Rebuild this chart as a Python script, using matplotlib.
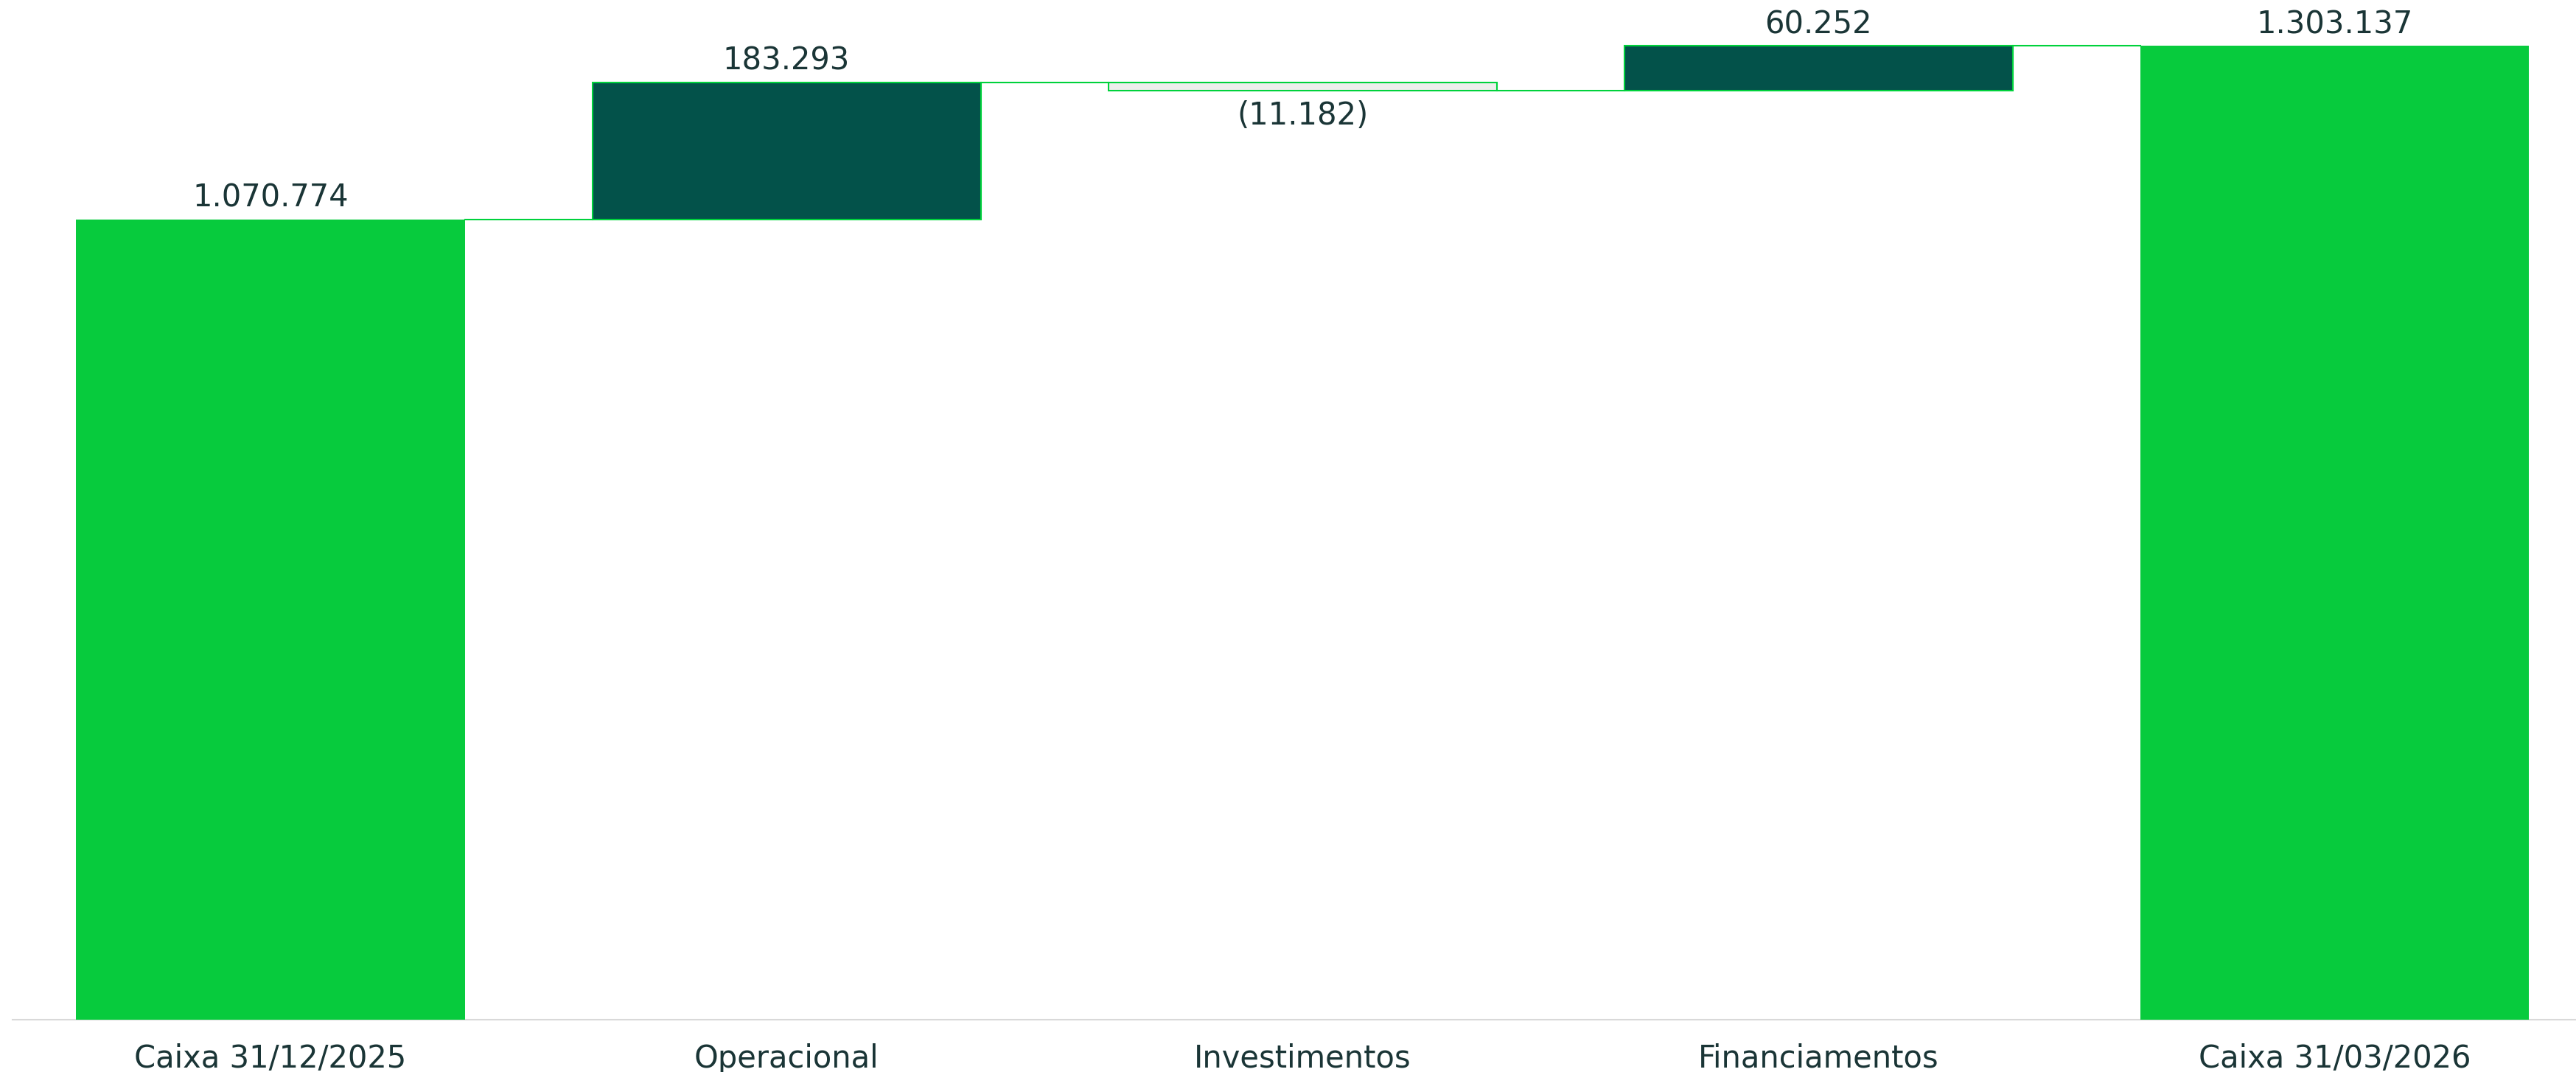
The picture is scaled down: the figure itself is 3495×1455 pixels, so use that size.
import matplotlib
matplotlib.use('Agg')
import matplotlib.pyplot as plt

categories = ['Caixa 31/12/2025', 'Operacional', 'Investimentos', 'Financiamentos', 'Caixa 31/03/2026']
values = [1070774, 183293, -11182, 60252, 1303137]
is_total = [True, False, False, False, True]

TOTAL_COLOR = '#07CB3D'
UP_COLOR = '#03524A'
DOWN_COLOR = '#EEEEEC'
EDGE_COLOR = '#00D23C'
TEXT_COLOR = '#1A3536'


def fmt(v):
    s = f'{abs(v):,}'.replace(',', '.')
    return f'({s})' if v < 0 else s


def build_waterfall(values, is_total):
    # bottoms, heights and running level after each bar
    bottoms, heights, levels = [], [], []
    running = 0
    for v, tot in zip(values, is_total):
        if tot:
            bottoms.append(0)
            heights.append(v)
            running = v
        else:
            bottoms.append(running if v >= 0 else running + v)
            heights.append(abs(v))
            running += v
        levels.append(running)
    return bottoms, heights, levels


plt.rcParams['font.family'] = ['DejaVu Sans']

fig = plt.figure(figsize=(34.95, 14.55), dpi=100)
ax = fig.add_axes([17 / 3495, 71 / 1455, 1 - 17 / 3495, 1384 / 1455])

bottoms, heights, levels = build_waterfall(values, is_total)
x = list(range(len(categories)))
width = 0.753

for i, (b, h, v, tot) in enumerate(zip(bottoms, heights, values, is_total)):
    if tot:
        ax.bar(i, h, bottom=b, width=width, color=TOTAL_COLOR, linewidth=0, zorder=3)
    else:
        fc = UP_COLOR if v >= 0 else DOWN_COLOR
        ax.bar(i, h, bottom=b, width=width, color=fc, edgecolor=EDGE_COLOR,
               linewidth=1.5, zorder=3)

    if v >= 0:
        ax.annotate(fmt(v), (i, b + h), xytext=(0, 6), textcoords='offset points',
                    ha='center', va='bottom', fontsize=30, color=TEXT_COLOR)
    else:
        ax.annotate(fmt(v), (i, b), xytext=(0, -9), textcoords='offset points',
                    ha='center', va='top', fontsize=30, color=TEXT_COLOR)

# connector lines between bars
for i in range(len(categories) - 1):
    ax.plot([i + width / 2, i + 1 - width / 2], [levels[i], levels[i]],
            color=EDGE_COLOR, linewidth=1.5, zorder=2)

ax.set_xlim(-0.5, 4.468)
ax.set_ylim(0, 1364600)
ax.set_xticks(x)
ax.set_xticklabels(categories, fontsize=30, color=TEXT_COLOR)
ax.tick_params(axis='x', length=0, pad=23)
ax.set_yticks([])
for side in ['top', 'right', 'left']:
    ax.spines[side].set_visible(False)
ax.spines['bottom'].set_color('#D9D9D9')
ax.spines['bottom'].set_linewidth(1.5)

fig.savefig('out.png', dpi=100)
plt.close(fig)
